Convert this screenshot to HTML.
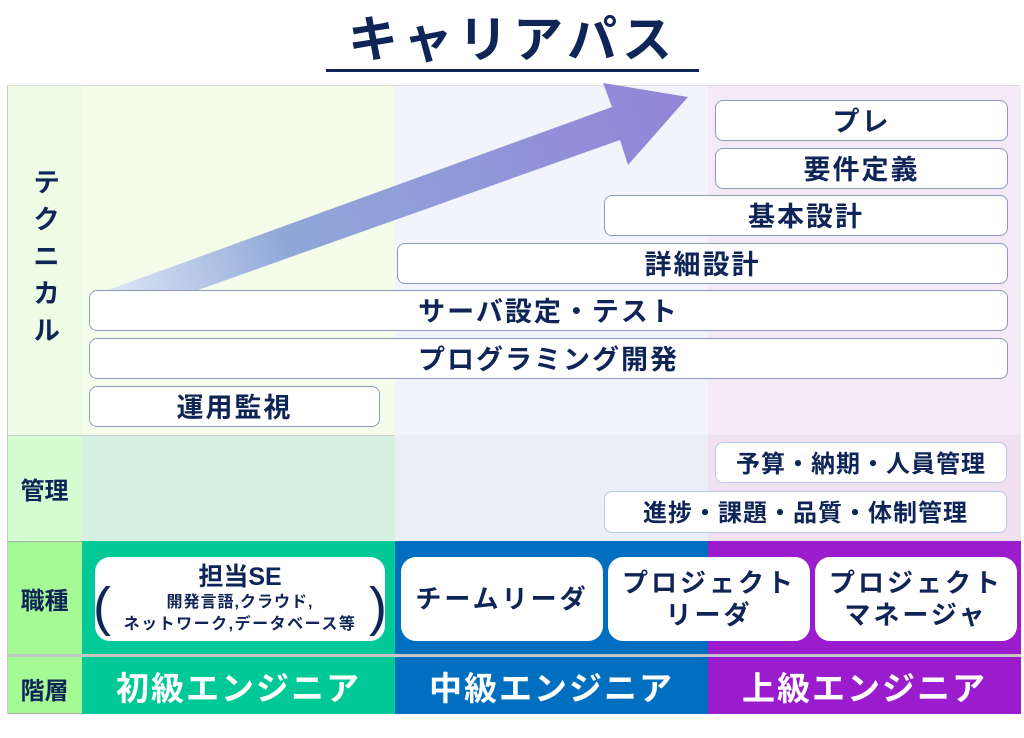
<!DOCTYPE html>
<html><head><meta charset="utf-8"><style>
*{margin:0;padding:0;box-sizing:border-box}
body{width:1024px;height:738px;background:#fff;position:relative;overflow:hidden;font-family:"Liberation Sans","Noto Sans CJK JP",sans-serif;font-weight:bold;color:#0f2557}
.a{position:absolute}
.box{position:absolute;background:#fff;border:1.5px solid #8a9bbd;border-radius:8px;display:flex;align-items:center;justify-content:center;font-size:27px;color:#0f2557;letter-spacing:2px;padding-bottom:3px}
.mg{border-color:#b9c9ec;font-size:24px;letter-spacing:1px}
.job{position:absolute;background:#fff;border-radius:15px;display:flex;flex-direction:column;align-items:center;justify-content:center;font-size:26px;line-height:32px;color:#0f2557;text-align:center;letter-spacing:3px}
.lv{position:absolute;top:657px;height:57px;display:flex;align-items:center;justify-content:center;color:#fff;font-size:33px;letter-spacing:2px}
.lab{position:absolute;left:7px;width:75px;display:flex;align-items:center;justify-content:center;font-size:24px;color:#0f2557}
</style></head><body>
<div class="a" style="left:326px;top:10px;width:373px;text-align:center;font-size:50px;letter-spacing:5px;line-height:60px">キャリアパス</div>
<div class="a" style="left:326px;top:69px;width:373px;height:3px;background:#0f2557"></div>

<div class="a" style="left:7px;top:85px;width:75px;height:350px;background:#eefce6;border-left:1px solid #ccc;border-top:1px solid #ddd"></div>
<div class="a" style="left:82px;top:85px;width:313px;height:350px;background:#f4fde9;border-top:1px solid #ddd"></div>
<div class="a" style="left:395px;top:85px;width:313px;height:350px;background:#f3f4fb;border-top:1px solid #ddd"></div>
<div class="a" style="left:708px;top:85px;width:313px;height:350px;background:#f3eaf6;border-top:1px solid #ddd"></div>
<div class="a" style="left:7px;top:435px;width:75px;height:106px;background:#d4fcd0;border-left:1px solid #ccc;border-top:1px solid #ccc"></div>
<div class="a" style="left:82px;top:435px;width:313px;height:106px;background:#d5f1e0;border-top:1px solid #ccc"></div>
<div class="a" style="left:395px;top:435px;width:313px;height:106px;background:#eceff8"></div>
<div class="a" style="left:708px;top:435px;width:313px;height:106px;background:#efe1f0"></div>
<div class="a" style="left:7px;top:541px;width:75px;height:173px;background:#a6fa96;border-left:1px solid #ccc;border-top:1px solid #aaa;border-bottom:1px solid #aaa"></div>
<div class="a" style="left:82px;top:541px;width:313px;height:114px;background:#00c896"></div>
<div class="a" style="left:395px;top:541px;width:313px;height:114px;background:#006fc0"></div>
<div class="a" style="left:708px;top:541px;width:313px;height:114px;background:#9b1ccc"></div>
<div class="a" style="left:7px;top:654px;width:1014px;height:3px;background:#c4c4c4"></div>
<div class="lv" style="left:82px;width:313px;background:#00c896">初級エンジニア</div>
<div class="lv" style="left:395px;width:313px;background:#006fc0">中級エンジニア</div>
<div class="lv" style="left:708px;width:313px;background:#9b1ccc">上級エンジニア</div>

<div class="lab" style="top:145px;height:230px;writing-mode:vertical-rl;font-size:27px;letter-spacing:10px">テクニカル</div>
<div class="lab" style="top:435px;height:106px">管理</div>
<div class="lab" style="top:541px;height:114px">職種</div>
<div class="lab" style="top:660px;height:57px">階層</div>

<svg class="a" style="left:0;top:0" width="1024" height="738">
<defs><linearGradient id="g" x1="108" y1="290" x2="688" y2="97" gradientUnits="userSpaceOnUse">
<stop offset="0" stop-color="#dde6f6"/><stop offset="0.3" stop-color="#8fa8d9"/><stop offset="1" stop-color="#9384d8"/></linearGradient></defs>
<polygon points="108,290 612,107 603,83 688,97 628,165 620,140 198,290" fill="url(#g)"/>
</svg>

<div class="box" style="left:715px;top:100px;width:293px;height:41px">プレ</div>
<div class="box" style="left:715px;top:148px;width:293px;height:41px">要件定義</div>
<div class="box" style="left:604px;top:195px;width:404px;height:41px">基本設計</div>
<div class="box" style="left:397px;top:243px;width:611px;height:41px">詳細設計</div>
<div class="box" style="left:89px;top:290px;width:919px;height:41px">サーバ設定・テスト</div>
<div class="box" style="left:89px;top:338px;width:919px;height:41px">プログラミング開発</div>
<div class="box" style="left:89px;top:386px;width:291px;height:41px">運用監視</div>

<div class="box mg" style="left:715px;top:442px;width:292px;height:41px">予算・納期・人員管理</div>
<div class="box mg" style="left:604px;top:491px;width:403px;height:42px">進捗・課題・品質・体制管理</div>

<div class="job" style="left:95px;top:557px;width:290px;height:84px;letter-spacing:0">
<div style="font-size:25px;line-height:30px">担当SE</div>
<div style="position:absolute;left:-2px;top:18px;font-size:54px;font-weight:normal;line-height:64px">(</div>
<div style="position:absolute;right:-2px;top:18px;font-size:54px;font-weight:normal;line-height:64px">)</div>
<div style="font-size:16px;line-height:22px;letter-spacing:1px">開発言語,クラウド,</div>
<div style="font-size:16px;line-height:22px;letter-spacing:1.5px">ネットワーク,データベース等</div>
</div>
<div class="job" style="left:401px;top:557px;width:202px;height:84px">チームリーダ</div>
<div class="job" style="left:608px;top:557px;width:202px;height:84px">プロジェクト<br>リーダ</div>
<div class="job" style="left:815px;top:557px;width:202px;height:84px">プロジェクト<br>マネージャ</div>
</body></html>
